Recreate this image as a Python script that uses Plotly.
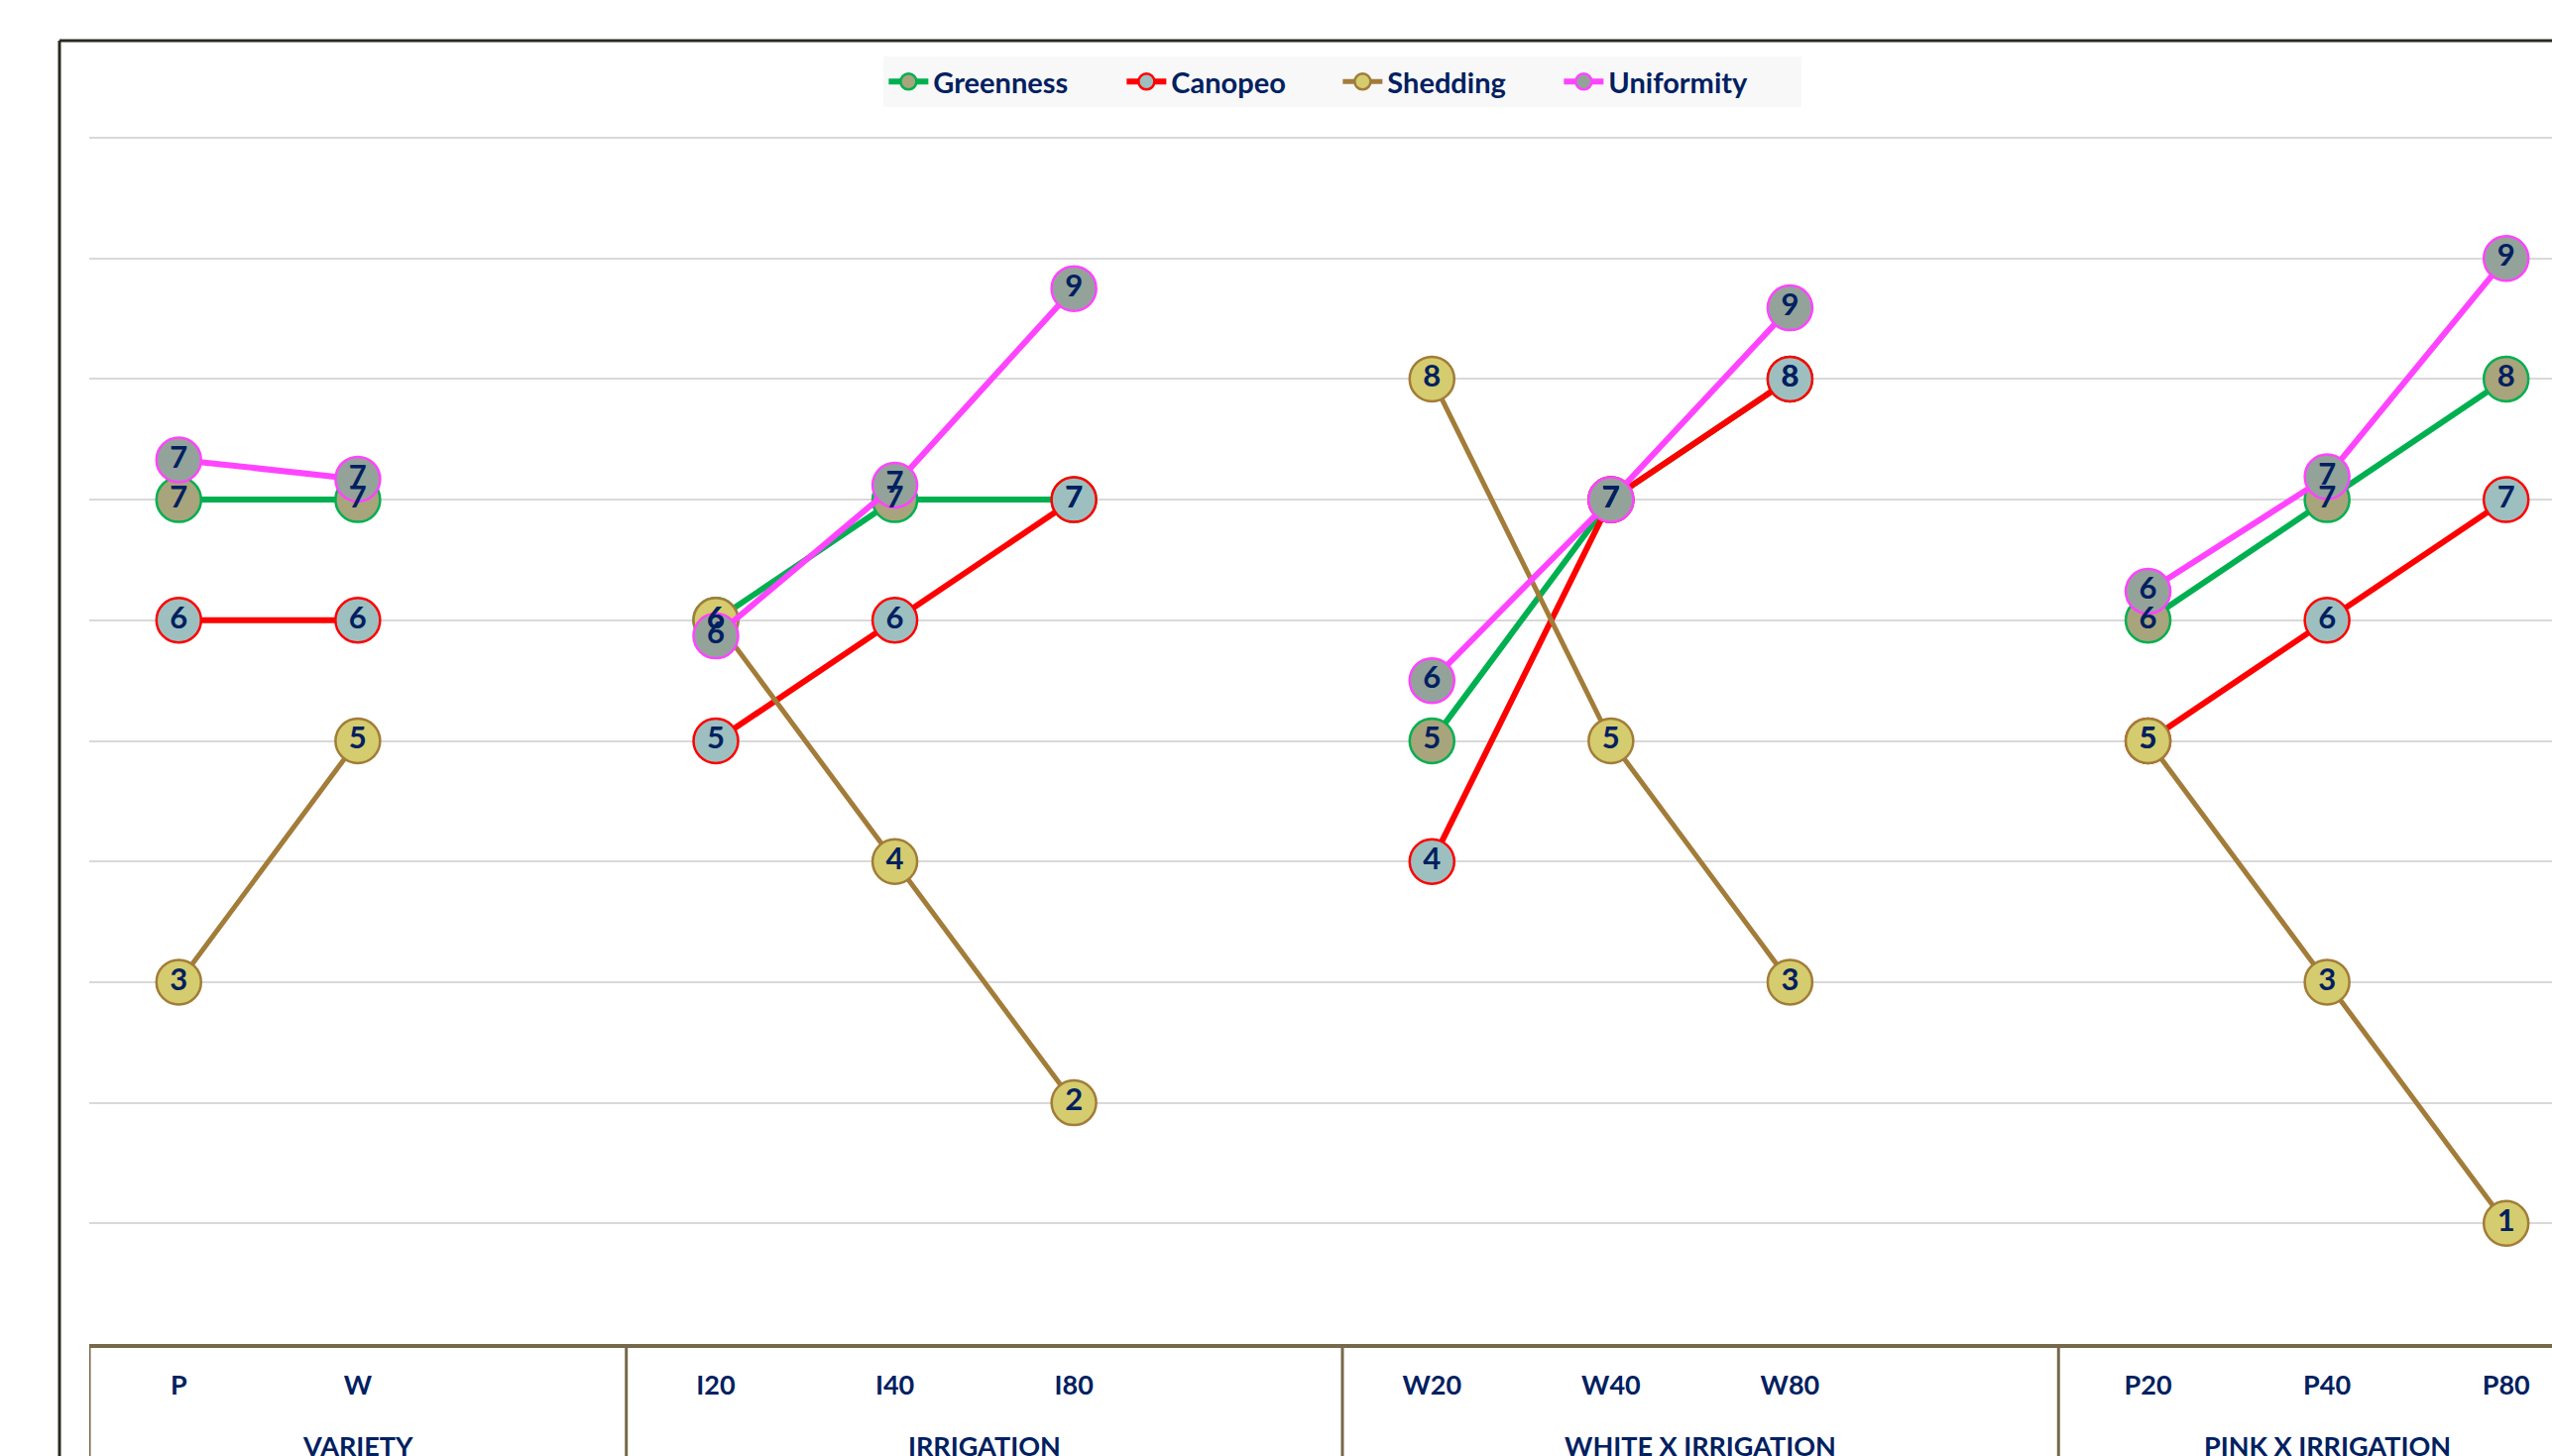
import plotly.graph_objects as go

# ---- data ----
groups = ["VARIETY"] * 3 + ["IRRIGATION"] * 4 + ["WHITE X IRRIGATION"] * 4 + ["PINK X IRRIGATION"] * 3
categories = ["P", "W", " ", "I20", "I40", "I80", "  ", "W20", "W40", "W80", "   ", "P20", "P40", "P80"]

greenness  = [7.0, 7.0, None, 6.0, 7.0, 7.0, None, 5.0, 7.0, 8.0, None, 6.0, 7.0, 8.0]
canopeo    = [6.0, 6.0, None, 5.0, 6.0, 7.0, None, 4.0, 7.0, 8.0, None, 5.0, 6.0, 7.0]
shedding   = [3.0, 5.0, None, 6.0, 4.0, 2.0, None, 8.0, 5.0, 3.0, None, 5.0, 3.0, 1.0]
uniformity = [7.33, 7.17, None, 5.87, 7.12, 8.75, None, 5.5, 7.0, 8.59, None, 6.24, 7.19, 9.0]

series_names = ["Greenness", "Canopeo", "Shedding", "Uniformity"]
series_vals = [greenness, canopeo, shedding, uniformity]
line_colors = ["#00b050", "#ff0000", "#a27c38", "#ff44ff"]
fill_colors = ["#a8a47c", "#9dbfbf", "#d4cc6e", "#93a39a"]
line_widths = [6, 6, 5, 6]
legend_widths = [185, 163, 168, 190]

NAVY = "#002060"
FONT = "Lato"
AXIS_COL = "#76694a"

fig = go.Figure()
for name, vals, lc, fc, lw, lgw in zip(series_names, series_vals, line_colors,
                                        fill_colors, line_widths, legend_widths):
    fig.add_trace(go.Scatter(
        x=categories, y=vals, name=name, mode="lines+markers",
        line=dict(color=lc, width=lw),
        marker=dict(size=45, color=fc, line=dict(color=lc, width=2.5)),
        connectgaps=False, hoverinfo="skip", cliponaxis=False,
        legendwidth=lgw,
    ))
# data labels drawn on top of all series (as in the original)
for name, vals in zip(series_names, series_vals):
    fig.add_trace(go.Scatter(
        x=categories, y=vals, mode="text", showlegend=False,
        texttemplate="%{y:.0f}", textposition="middle center",
        textfont=dict(family=FONT, size=31, color=NAVY, weight="bold"),
        hoverinfo="skip", cliponaxis=False,
    ))

W, H = 2574, 1469
L, T, B = 90, 136, 113
plot_w = W - L
plot_h = H - T - B
band = 180.57
x_right = -0.5 + plot_w / band
px_per_unit = 121.7
y_top = plot_h / px_per_unit

def py(Y):
    """figure pixel row -> paper y"""
    return (H - B - Y) / plot_h

# group labels and dividers, derived from the group list
group_names = []
for g in groups:
    if g not in group_names:
        group_names.append(g)
annotations = []
shapes = []
for g in group_names:
    idx = [i for i, gg in enumerate(groups) if gg == g]
    annotations.append(dict(
        x=sum(idx) / len(idx), xref="x", y=py(1458), yref="paper",
        text=g, showarrow=False, xanchor="center", yanchor="middle",
        font=dict(family=FONT, size=27, color=NAVY, weight="bold"),
    ))
    shapes.append(dict(type="line", xref="x", yref="paper",
                       x0=idx[0] - 0.5, x1=idx[0] - 0.5, y0=0, y1=-0.2,
                       line=dict(color=AXIS_COL, width=3)))

# outer chart frame (extends beyond the visible picture)
fx = (60 - L) / plot_w
fy = py(41)
shapes += [
    dict(type="line", xref="paper", yref="paper", x0=fx, x1=fx, y0=-0.2, y1=fy,
         line=dict(color="#2c2a20", width=3)),
    dict(type="line", xref="paper", yref="paper", x0=fx, x1=1.05, y0=fy, y1=fy,
         line=dict(color="#2c2a20", width=3)),
]

fig.update_layout(
    width=W, height=H,
    margin=dict(l=L, r=0, t=T, b=B, pad=0),
    paper_bgcolor="white", plot_bgcolor="white",
    font=dict(family=FONT, color=NAVY),
    showlegend=True,
    legend=dict(
        orientation="h", x=0.509, xanchor="center", y=py(57), yanchor="top",
        bgcolor="#f8f8f8", borderwidth=0,
        font=dict(family=FONT, size=29, color=NAVY, weight="bold"),
        itemwidth=40,
    ),
    xaxis=dict(
        type="category", categoryorder="array", categoryarray=categories,
        range=[-0.5, x_right],
        showgrid=False, zeroline=False,
        showline=True, linecolor=AXIS_COL, linewidth=4,
        ticks="outside", ticklen=15, tickcolor="rgba(0,0,0,0)",
        tickfont=dict(family=FONT, size=27, color=NAVY, weight="bold"),
    ),
    yaxis=dict(
        range=[0, y_top], dtick=1, tick0=0,
        showgrid=True, gridcolor="#d9d9d9", gridwidth=2,
        showticklabels=False, zeroline=False, showline=False, ticks="",
    ),
    annotations=annotations,
    shapes=shapes,
)

fig.write_html("out.html")
